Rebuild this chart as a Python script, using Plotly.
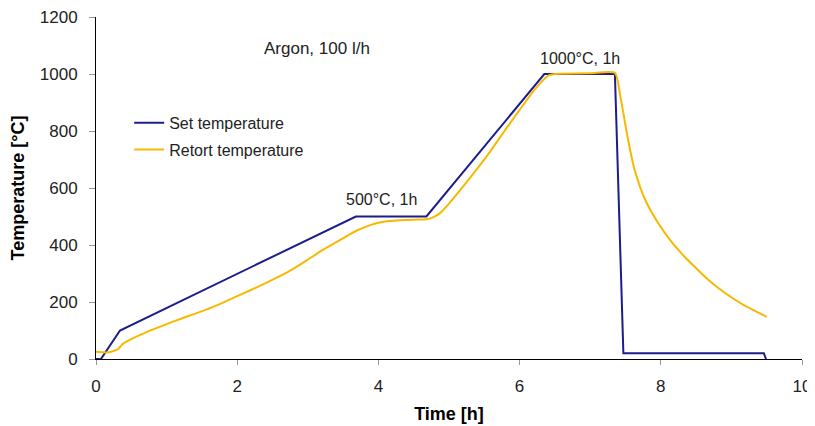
import plotly.graph_objects as go

# ---- data ----
set_time = [0.0, 0.07, 0.34, 3.68, 4.68, 6.35, 7.35, 7.47, 9.46, 9.49]
set_temp = [0, 0, 100, 500, 500, 1000, 1000, 20, 20, 0]

retort_time = [0.0, 0.15, 0.25, 0.32, 0.36, 0.39, 0.5, 0.62, 0.8, 1.09, 1.3, 1.57,
               1.8, 2.04, 2.3, 2.51, 2.75, 2.98, 3.2, 3.46, 3.6, 3.69, 3.8, 3.97,
               4.15, 4.31, 4.5, 4.68, 4.78, 4.87, 5.0, 5.16, 5.35, 5.53, 5.75, 6.0,
               6.15, 6.29, 6.41, 6.5, 6.6, 7.0, 7.35, 7.42, 7.47, 7.54, 7.63, 7.78,
               7.96, 8.15, 8.34, 8.46, 8.70, 8.93, 9.17, 9.50]
retort_temp = [25, 23, 28, 36, 48, 55, 70, 84, 103, 131, 150, 174,
               198, 225, 254, 279, 310, 345, 381, 418, 438, 450, 462, 476,
               484, 487, 489, 490, 498, 511, 545, 593, 652, 710, 787, 874,
               925, 967, 995, 1000, 1001, 1003, 1004, 932, 862, 765, 663, 558,
               478, 412, 358, 328, 272, 228, 190, 148]

x_ticks = [0, 2, 4, 6, 8, 10]
y_ticks = [0, 200, 400, 600, 800, 1000, 1200]

series_names = ["Set temperature", "Retort temperature"]
labels = ["Argon, 100 l/h", "500°C, 1h", "1000°C, 1h"]
label_x = [2.35, 4.05, 6.86]
label_y = [1088, 560, 1056]

FONT = "Liberation Sans, Arial, sans-serif"
TXT = "#222222"

fig = go.Figure()
fig.add_trace(go.Scatter(x=set_time, y=set_temp, mode="lines", name=series_names[0],
                         line=dict(color="#1c1c8c", width=2), legendgroup="a"))
fig.add_trace(go.Scatter(x=retort_time, y=retort_temp, mode="lines", name=series_names[1],
                         line=dict(color="#f7b900", width=2, shape="spline", smoothing=0.6),
                         legendgroup="b"))

anchors = ["left", "center", "center"]
sizes = [17, 16, 16]
for t, xv, yv, a, s in zip(labels, label_x, label_y, anchors, sizes):
    fig.add_annotation(x=xv, y=yv, text=t, showarrow=False, xanchor=a, yanchor="middle",
                       font=dict(family=FONT, size=s, color=TXT))

fig.update_layout(
    width=807, height=418, autosize=False,
    margin=dict(l=88, r=13, t=9, b=67),
    paper_bgcolor="white", plot_bgcolor="white",
    font=dict(family=FONT, size=17, color=TXT),
    showlegend=True,
    legend=dict(x=0.047, y=0.74, xanchor="left", yanchor="top",
                bgcolor="rgba(0,0,0,0)", font=dict(family=FONT, size=16, color=TXT),
                traceorder="grouped", tracegroupgap=3),
    xaxis=dict(range=[0, 10], tickvals=x_ticks, showgrid=False, zeroline=False,
               showline=True, linecolor="black", linewidth=1,
               ticks="outside", ticklen=5, tickcolor="#999999",
               ticklabelstandoff=7, ticklabeloverflow="allow",
               tickfont=dict(family=FONT, size=17, color=TXT),
               title=dict(text="<b>Time [h]</b>", font=dict(family=FONT, size=18, color="black"),
                          standoff=11),
               automargin=False),
    yaxis=dict(range=[0, 1200], tickvals=y_ticks, showgrid=False, zeroline=False,
               showline=True, linecolor="black", linewidth=1,
               ticks="outside", ticklen=6, tickcolor="#999999",
               ticklabelstandoff=8, ticklabeloverflow="allow",
               tickfont=dict(family=FONT, size=17, color=TXT),
               title=dict(text="<b>Temperature [°C]</b>", font=dict(family=FONT, size=18, color="black"),
                          standoff=14),
               automargin=False),
)

fig.write_html("out.html")
